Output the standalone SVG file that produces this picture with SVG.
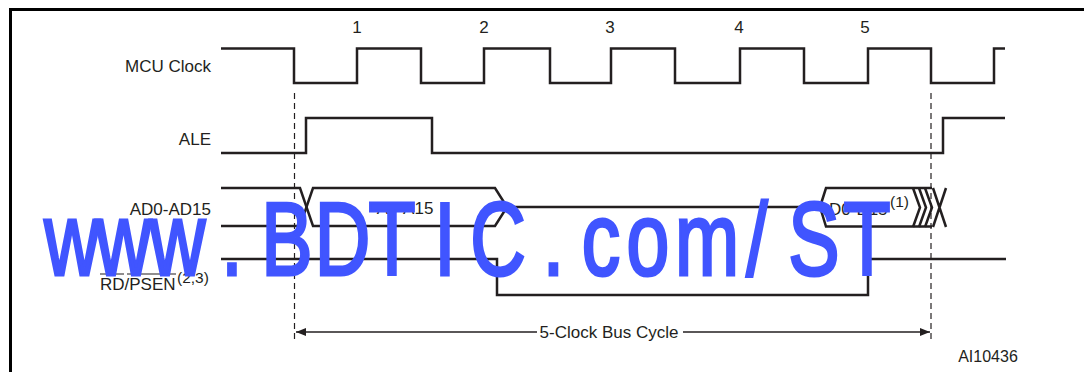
<svg xmlns="http://www.w3.org/2000/svg" width="1084" height="372" viewBox="0 0 1084 372">
<style>
.sig{fill:none;stroke:#231f20;stroke-width:2.5;stroke-linejoin:miter;stroke-linecap:butt}
.lbl{font-family:"Liberation Sans",Arial,sans-serif;font-size:17px;fill:#231f20}
.sup{font-family:"Liberation Sans",Arial,sans-serif;font-size:15.5px;fill:#231f20}
.dash{fill:none;stroke:#231f20;stroke-width:1.2;stroke-dasharray:6,4}
.dim{fill:none;stroke:#231f20;stroke-width:1.3}
.wm{font-family:"Liberation Sans",Arial,sans-serif;font-size:104px;fill:#4055ff;stroke:#4055ff;stroke-width:3.2;stroke-linejoin:miter}
</style>
<defs>
<marker id="ah" viewBox="0 0 10 8" refX="10" refY="4" markerWidth="10" markerHeight="8" markerUnits="userSpaceOnUse" orient="auto-start-reverse">
<path d="M0,0 L10,4 L0,8 Z" fill="#231f20"/>
</marker>
</defs>
<rect width="1084" height="372" fill="#fff"/>
<g id="frame">
<path d="M10.5,372 V9.5 H1084" fill="none" stroke="#000" stroke-width="3"/>
</g>
<g id="cycle-numbers" class="lbl" text-anchor="middle">
<text x="357" y="33">1</text>
<text x="484" y="33">2</text>
<text x="610" y="33">3</text>
<text x="739" y="33">4</text>
<text x="865" y="33">5</text>
</g>
<g id="mcu-clock">
<text class="lbl" x="211" y="72" text-anchor="end">MCU Clock</text>
<path class="sig" d="M221,48.5 H294 V83 H357 V48.5 H421 V83 H484 V48.5 H550 V83 H611 V48.5 H675 V83 H740 V48.5 H804 V83 H868 V48.5 H931 V83 H994 V48.5 H1005"/>
</g>
<g id="ale">
<text class="lbl" x="211" y="145" text-anchor="end">ALE</text>
<path class="sig" d="M221,153 H306 V118 H432 V153 H943 V118 H1005"/>
</g>
<g id="ad-bus">
<text class="lbl" x="211" y="215" text-anchor="end">AD0-AD15</text>
<path class="sig" d="M221,188 H300 L313,226 H495 L507,207 H820 L826,226.5 H932"/>
<path class="sig" d="M221,226 H300 L313,188 H495 L507,207 M820,207 L826,188 H932"/>
<path class="sig" d="M913,188 L920,207.5 L913,227 M919,188 L926,207.5 L919,227 M925,188 L932,207.5 L925,227 M933,188 L946,227 M946,188 L933,227"/>
<text class="lbl" x="405" y="214" text-anchor="middle">A0-A15</text>
<text class="lbl" x="829" y="215">D0-D15</text>
<text class="sup" x="890" y="207">(1)</text>
</g>
<g id="rd-psen">
<text class="lbl" x="100" y="290">RD/PSEN</text>
<text class="sup" x="177" y="283">(2,3)</text>
<path d="M100,274 H124 M127,274 H176" fill="none" stroke="#231f20" stroke-width="1.2"/>
<path class="sig" d="M221,259 H497 V295 H868 V259 H1006"/>
</g>
<g id="connectors">
<path class="dash" d="M294.5,93 V340"/>
<path class="dash" d="M931,93 V340"/>
<path class="dim" d="M537,332 H296" marker-end="url(#ah)"/>
<path class="dim" d="M683,332 H930" marker-end="url(#ah)"/>
</g>
<g id="bus-cycle-label">
<text class="lbl" x="609" y="338" text-anchor="middle">5-Clock Bus Cycle</text>
</g>
<g id="figure-id">
<text x="988" y="362" text-anchor="middle" font-family="'Liberation Sans',Arial,sans-serif" font-size="16" fill="#231f20">AI10436</text>
</g>
<g id="watermark">
<text class="wm" transform="scale(0.74,1)" y="275.5" text-anchor="middle" x="97.3 166.9 239.9 313.5 387.8 462.8 529.7 601.4 673.0 748.0 812.2 875.7 955.4 1023.0 1100.0 1171.6">www.BDTIC.com/ST</text>
</g>
</svg>
